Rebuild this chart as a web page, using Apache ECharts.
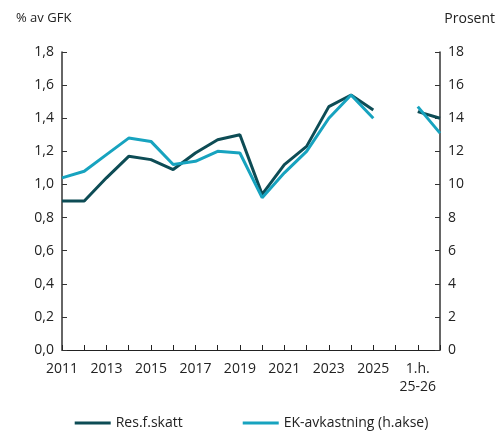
<!DOCTYPE html>
<html><head><meta charset="utf-8">
<script src="https://cdn.jsdelivr.net/npm/echarts@6/dist/echarts.min.js"></script>
<style>html,body{margin:0;padding:0;background:#fff}#c{width:503px;height:445px}</style>
</head><body><div id="c"></div>
<script>
const categories = ['2011','2012','2013','2014','2015','2016','2017','2018','2019','2020','2021','2022','2023','2024','2025','','1.h.\n25-26',''];
const resSkatt = [0.9,0.9,1.04,1.17,1.15,1.09,1.19,1.27,1.30,0.94,1.12,1.23,1.47,1.54,1.45,null,1.44,1.40];
const ekAvk = [10.4,10.8,11.8,12.8,12.6,11.2,11.4,12.0,11.9,9.2,10.7,12.0,14.0,15.4,14.0,null,14.7,13.1];

const chart = echarts.init(document.getElementById('c'));
const txt = {color:'#222', fontFamily:'Open Sans', fontSize:14};
const axisCommon = {
  axisLine:{show:true, lineStyle:{color:'#333', width:1.5}},
  axisTick:{show:true, inside:true, length:5, lineStyle:{color:'#333'}},
  splitLine:{show:false},
  axisLabel:Object.assign({}, txt)
};
chart.setOption({
  animation:false,
  grid:{left:62, right:63, top:52, bottom:95},
  legend:{bottom:10, left:'center', itemGap:60, itemWidth:36, itemHeight:3, icon:'rect',
    textStyle:txt, data:['Res.f.skatt','EK-avkastning (h.akse)']},
  graphic:[
    {type:'text', left:16, top:12, style:{text:'% av GFK', fill:'#222', font:'13px Open Sans'}},
    {type:'text', right:8, top:12, style:{text:'Prosent', fill:'#222', font:'14px Open Sans'}}
  ],
  xAxis:{type:'category', data:categories, boundaryGap:false,
    axisLine:{lineStyle:{color:'#222', width:1}},
    axisTick:{show:true, interval:0, length:5, inside:true, lineStyle:{color:'#222'}},
    axisLabel:Object.assign({interval:1, margin:10, lineHeight:18}, txt)},
  yAxis:[
    Object.assign({type:'value', min:0, max:1.8, interval:0.2, position:'left'}, axisCommon,
      {axisLabel:Object.assign({formatter:v=>v.toFixed(1).replace('.',',')}, txt)}),
    Object.assign({type:'value', min:0, max:18, interval:2, position:'right'}, axisCommon)
  ],
  series:[
    {name:'Res.f.skatt', type:'line', data:resSkatt, yAxisIndex:0, symbol:'none',
      connectNulls:false, lineStyle:{width:3, color:'#0d4c55'}, itemStyle:{color:'#0d4c55'}},
    {name:'EK-avkastning (h.akse)', type:'line', data:ekAvk, yAxisIndex:1, symbol:'none',
      connectNulls:false, lineStyle:{width:3, color:'#17a3bf'}, itemStyle:{color:'#17a3bf'}}
  ]
});
</script></body></html>
